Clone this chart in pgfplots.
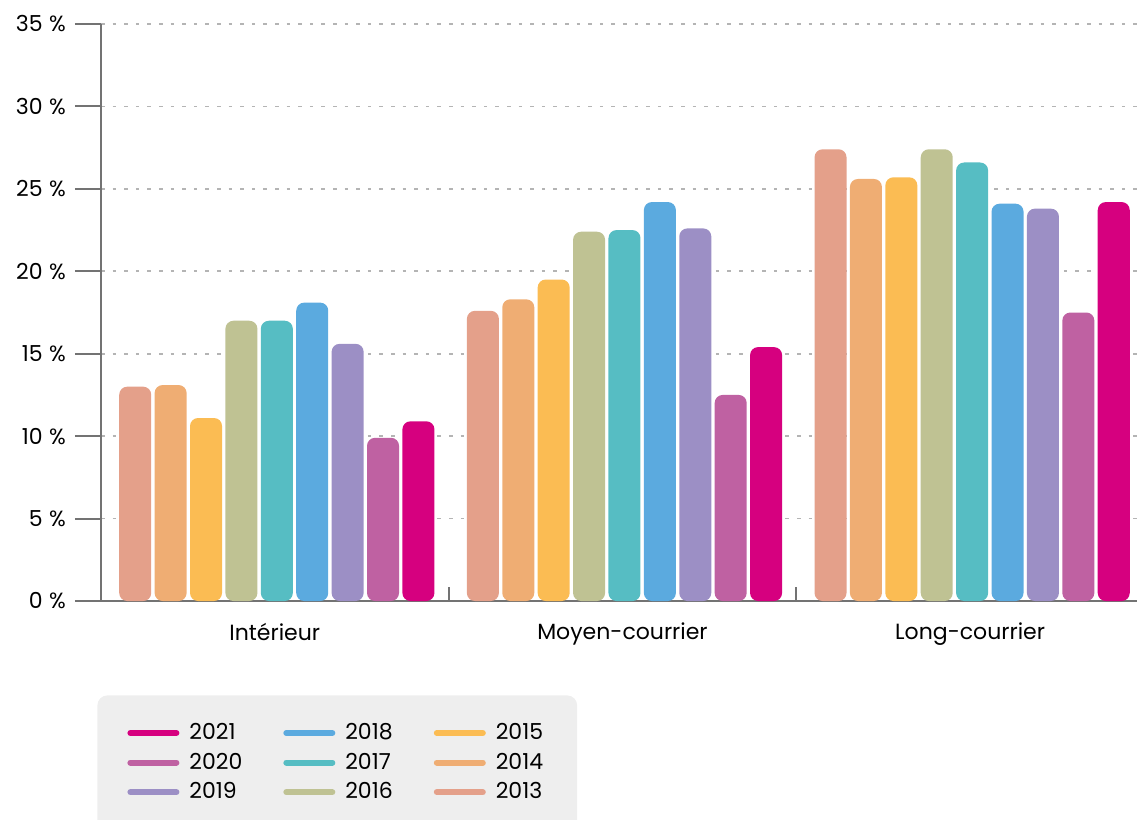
\documentclass[border=0pt]{standalone}
\usepackage{pgfplots}
\usepackage{pgfplotstable}
\pgfplotsset{compat=1.18}
\usepackage{fontspec}
\setmainfont{Poppins}

\definecolor{c2013}{HTML}{E4A08A}
\definecolor{c2014}{HTML}{EFAD73}
\definecolor{c2015}{HTML}{FBBC53}
\definecolor{c2016}{HTML}{BFC293}
\definecolor{c2017}{HTML}{56BDC3}
\definecolor{c2018}{HTML}{5BAADF}
\definecolor{c2019}{HTML}{9C8FC5}
\definecolor{c2020}{HTML}{BF61A2}
\definecolor{c2021}{HTML}{D6007F}
\definecolor{axisgray}{HTML}{737373}
\definecolor{gridgray}{HTML}{B4B4B4}
\definecolor{leggray}{HTML}{EEEEEE}

% part des passagers (%), par type de vol et par annee
\pgfplotstableread{
x  y2013 y2014 y2015 y2016 y2017 y2018 y2019 y2020 y2021
0  13.0  13.1  11.1  17.0  17.0  18.1  15.6  9.9   10.9
1  17.6  18.3  19.5  22.4  22.5  24.2  22.6  12.5  15.4
2  27.4  25.6  25.7  27.4  26.6  24.1  23.8  17.5  24.2
}\datatable

\begin{document}
\begin{tikzpicture}[font=\fontsize{11}{13}\selectfont]
\begin{axis}[
    scale only axis,
    width=518pt, height=288.5pt,
    ybar, bar width=16pt,
    xmin=-0.5, xmax=2.48,
    ymin=0, ymax=35,
    axis x line*=bottom, axis y line*=left,
    axis line style={axisgray, line width=1pt, -},
    xtick={0,1,2},
    xticklabels={Intérieur, Moyen-courrier, Long-courrier},
    xtick style={draw=none},
    xticklabel style={yshift=5.5pt},
    extra x ticks={0.5,1.5},
    extra x tick labels={},
    extra x tick style={tick align=inside, major tick length=7pt, grid=none,
        xtick style={draw=axisgray, line width=1pt}},
    ytick={0,5,...,35},
    tick align=outside,
    major tick length=13pt,
    ytick style={axisgray, line width=1pt},
    yticklabel={\pgfmathprintnumber{\tick}\hspace{0.3em}\%},
    yticklabel style={xshift=-1pt},
    /pgf/number format/assume math mode=true,
    ymajorgrids,
    major grid style={gridgray, line width=0.8pt, dash pattern=on 1.8pt off 4pt},
    every axis plot/.append style={draw=none, rounded corners=4pt},
    legline/.style={legend image code/.code={\draw[line width=3pt, line cap=round, draw=#1] (1.5pt,0pt) -- (24.5pt,0pt);}},
    legend columns=3,
    legend cell align=left,
    legend style={at={(axis description cs:0,0)}, anchor=north west,
        xshift=-2pt, yshift=-47pt,
        fill=leggray, draw=none, rounded corners=5pt,
        inner xsep=15pt, inner ysep=12pt, row sep=1.2pt,
        /tikz/every odd column/.append style={column sep=3pt},
        /tikz/every even column/.append style={column sep=18.5pt}},
]
\coordinate (SW) at (rel axis cs:0,0);
\coordinate (NE) at (rel axis cs:1,1);
\addplot[fill=c2013, forget plot, bar shift=-69.8pt] table[x=x, y=y2013] {\datatable};
\addplot[fill=c2014, forget plot, bar shift=-52.1pt] table[x=x, y=y2014] {\datatable};
\addplot[fill=c2015, forget plot, bar shift=-34.4pt] table[x=x, y=y2015] {\datatable};
\addplot[fill=c2016, forget plot, bar shift=-16.7pt] table[x=x, y=y2016] {\datatable};
\addplot[fill=c2017, forget plot, bar shift=1pt]     table[x=x, y=y2017] {\datatable};
\addplot[fill=c2018, forget plot, bar shift=18.7pt]  table[x=x, y=y2018] {\datatable};
\addplot[fill=c2019, forget plot, bar shift=36.4pt]  table[x=x, y=y2019] {\datatable};
\addplot[fill=c2020, forget plot, bar shift=54.1pt]  table[x=x, y=y2020] {\datatable};
\addplot[fill=c2021, forget plot, bar shift=71.8pt]  table[x=x, y=y2021] {\datatable};
\addlegendimage{legline=c2021}\addlegendentry{2021}
\addlegendimage{legline=c2018}\addlegendentry{2018}
\addlegendimage{legline=c2015}\addlegendentry{2015}
\addlegendimage{legline=c2020}\addlegendentry{2020}
\addlegendimage{legline=c2017}\addlegendentry{2017}
\addlegendimage{legline=c2014}\addlegendentry{2014}
\addlegendimage{legline=c2019}\addlegendentry{2019}
\addlegendimage{legline=c2016}\addlegendentry{2016}
\addlegendimage{legline=c2013}\addlegendentry{2013}
\end{axis}
\pgfresetboundingbox
\useasboundingbox ([xshift=-50.5pt, yshift=-109pt]SW) rectangle ([yshift=12pt]NE);
\end{tikzpicture}
\end{document}
